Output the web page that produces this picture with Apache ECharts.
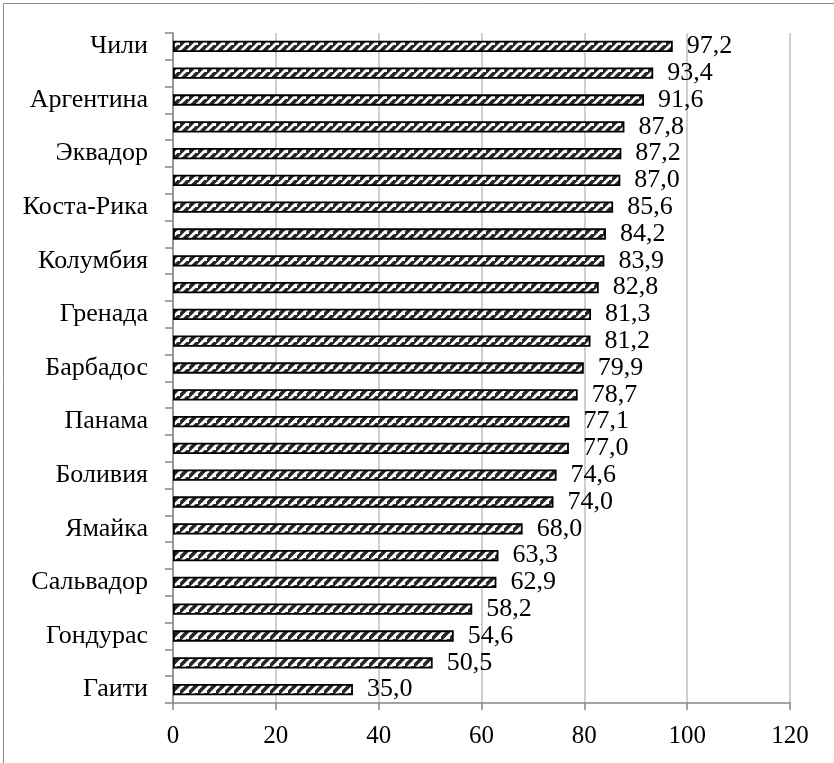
<!DOCTYPE html>
<html>
<head>
<meta charset="utf-8">
<script src="https://cdn.jsdelivr.net/npm/echarts@6/dist/echarts.min.js"></script>
<style>
  html, body { margin: 0; padding: 0; background: #fff; }
  #chart { width: 834px; height: 763px; }
</style>
</head>
<body>
<div id="chart"></div>
<script>
// Countries, bottom to top; unlabeled rows have blank names
const categories = [
  'Гаити', '', 'Гондурас', '', 'Сальвадор', '', 'Ямайка', '', 'Боливия', '',
  'Панама', '', 'Барбадос', '', 'Гренада', '', 'Колумбия', '', 'Коста-Рика', '',
  'Эквадор', '', 'Аргентина', '', 'Чили'
];
const values = [
  35.0, 50.5, 54.6, 58.2, 62.9, 63.3, 68.0, 74.0, 74.6, 77.0,
  77.1, 78.7, 79.9, 81.2, 81.3, 82.8, 83.9, 84.2, 85.6, 87.0,
  87.2, 87.8, 91.6, 93.4, 97.2
];
const xTicks = [0, 20, 40, 60, 80, 100, 120];

// Diagonal hatch fill for the bars
function hatch() {
  const s = 9;
  const c = document.createElement('canvas');
  c.width = s; c.height = s;
  const g = c.getContext('2d');
  g.fillStyle = '#ffffff';
  g.fillRect(0, 0, s, s);
  g.strokeStyle = '#262626';
  g.lineWidth = 3.6;
  g.beginPath();
  g.moveTo(-2, s + 2); g.lineTo(s + 2, -2);
  g.moveTo(-2 - s, s + 2); g.lineTo(2, -2);
  g.moveTo(s - 2, 2 * s + 2); g.lineTo(2 * s + 2, s - 2);
  g.stroke();
  return c;
}

const font = '"Liberation Serif", "Times New Roman", serif';
const chart = echarts.init(document.getElementById('chart'), null, { renderer: 'canvas' });
chart.setOption({
  animation: false,
  backgroundColor: '#ffffff',
  graphic: [{
    type: 'rect',
    shape: { x: 3.5, y: 3.5, width: 900, height: 900 },
    style: { fill: 'none', stroke: '#8c8c8c', lineWidth: 1 },
    silent: true
  }],
  grid: { left: 173, right: 44, top: 33, bottom: 60, containLabel: false },
  xAxis: {
    type: 'value',
    min: xTicks[0],
    max: xTicks[xTicks.length - 1],
    interval: xTicks[1] - xTicks[0],
    axisLine: { show: true, lineStyle: { color: '#868686', width: 1.5 } },
    axisTick: { show: true, length: 7, lineStyle: { color: '#868686', width: 1.5 } },
    splitLine: { show: true, lineStyle: { color: '#bfbfbf', width: 1.5 } },
    axisLabel: {
      margin: 21, color: '#000', fontFamily: font, fontSize: 25,
      formatter: v => String(v)
    }
  },
  yAxis: {
    type: 'category',
    data: categories,
    axisLine: { show: true, lineStyle: { color: '#868686', width: 1.5 } },
    axisTick: { show: true, length: 8, lineStyle: { color: '#868686', width: 1.5 } },
    splitLine: { show: false },
    axisLabel: {
      interval: 0, margin: 25, color: '#000', fontFamily: font, fontSize: 26
    }
  },
  series: [{
    type: 'bar',
    data: values,
    barCategoryGap: '58%',
    itemStyle: {
      color: { image: hatch(), repeat: 'repeat' },
      borderColor: '#000',
      borderWidth: 1.8
    },
    label: {
      show: true,
      position: 'right',
      distance: 14,
      color: '#000',
      fontFamily: font,
      fontSize: 26,
      formatter: p => p.value.toFixed(1).replace('.', ',')
    }
  }]
});
</script>
</body>
</html>
